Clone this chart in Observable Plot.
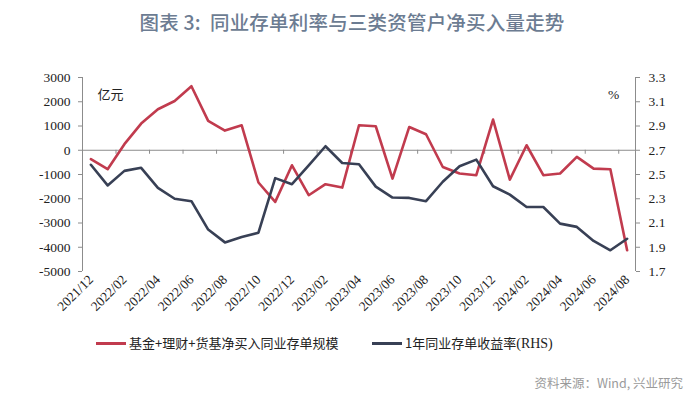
<!DOCTYPE html>
<html><head><meta charset="utf-8">
<script src="https://cdn.jsdelivr.net/npm/d3@7"></script>
<script src="https://cdn.jsdelivr.net/npm/@observablehq/plot@0.6"></script>
<style>
body{margin:0;width:700px;height:404px;position:relative;background:#fff;overflow:hidden;font-family:"Noto Sans CJK SC",sans-serif}
#title{position:absolute;left:0;top:0;width:704px;height:44px;line-height:44px;text-align:center;font-size:19.5px;font-weight:500;color:#6c7c92;letter-spacing:0.2px;white-space:pre}
#chart{position:absolute;left:0;top:45px}
.leg{position:absolute;top:334px;height:18px;line-height:18px;font-size:13px;color:#222;white-space:nowrap}
.sw{display:inline-block;width:30px;height:2.5px;vertical-align:middle;margin-right:3px;position:relative;top:-1px}
#source{position:absolute;right:17px;top:373px;font-size:12.5px;color:#9a9a9a;white-space:nowrap}
</style></head><body>
<div id="title">图表 3:  同业存单利率与三类资管户净买入量走势</div>
<div id="chart"></div>
<div class="leg" style="left:96px"><span class="sw" style="background:#c13b4e"></span>基金+理财+货基净买入同业存单规模</div>
<div class="leg" style="left:372px"><span class="sw" style="background:#384055"></span>1年同业存单收益率<span style="font-family:'Liberation Serif',serif;font-size:14px">(RHS)</span></div>
<div id="source">资料来源：Wind, 兴业研究</div>
<script>
const months = ["2021/12","2022/01","2022/02","2022/03","2022/04","2022/05","2022/06","2022/07","2022/08","2022/09","2022/10","2022/11","2022/12","2023/01","2023/02","2023/03","2023/04","2023/05","2023/06","2023/07","2023/08","2023/09","2023/10","2023/11","2023/12","2024/01","2024/02","2024/03","2024/04","2024/05","2024/06","2024/07","2024/08"];
// 基金+理财+货基净买入同业存单规模（亿元，左轴）
const netBuy = [-370,-780,250,1100,1690,2030,2640,1210,810,1030,-1330,-2130,-620,-1855,-1400,-1540,1030,990,-1170,960,660,-690,-962,-1030,1265,-1210,206,-1030,-960,-275,-756,-785,-4124];
// 1年同业存单收益率（%，右轴）
const rate = [2.58,2.41,2.53,2.555,2.39,2.30,2.28,2.046,1.94,1.985,2.02,2.47,2.42,2.576,2.733,2.595,2.585,2.40,2.31,2.307,2.28,2.44,2.568,2.623,2.403,2.334,2.232,2.232,2.095,2.068,1.952,1.875,1.97];
const leftTicks = [-5000,-4000,-3000,-2000,-1000,0,1000,2000,3000];
const rightTicks = [1.7,1.9,2.1,2.3,2.5,2.7,2.9,3.1,3.3];

const red = "#c13b4e", navy = "#384055", axisColor = "#8c8c8c";
const serif = "'Liberation Serif', 'Times New Roman', serif";
const toLeft = r => (r - 2.7) * 5000;
const idx = d3.range(months.length);
const labelIdx = idx.filter(i => i % 2 === 0);
const tickPos = d3.range(2, months.length, 2).map(k => k - 0.5);

const plot = Plot.plot({
  width: 700, height: 288,
  marginLeft: 82, marginRight: 65, marginTop: 32, marginBottom: 62,
  x: {domain: [-0.5, months.length - 0.5]},
  y: {domain: [-5000, 3000]},
  style: "font-family: 'Liberation Serif', 'Times New Roman', serif; font-size: 13.5px; color: #222; background: transparent; overflow: visible;",
  marks: [
    Plot.ruleY([0], {stroke: axisColor, strokeWidth: 1}),
    Plot.ruleX(tickPos, {x: d => d, y1: 0, y2: 0, insetBottom: -4, stroke: axisColor}),
    Plot.ruleX([-0.5, months.length - 0.5], {x: d => d, y1: -5000, y2: 3000, stroke: axisColor}),
    Plot.axisY({ticks: leftTicks, tickSize: 4, tickPadding: 8, tickFormat: d => String(d), label: null, stroke: axisColor, fill: "#222", fontFamily: serif, fontSize: 13.5}),
    Plot.axisY({anchor: "right", ticks: rightTicks.map(toLeft), tickSize: 4, tickPadding: 9, tickFormat: d => (2.7 + d / 5000).toFixed(1), label: null, stroke: axisColor, fill: "#222", fontFamily: serif, fontSize: 13.5}),
    Plot.axisX({ticks: labelIdx, tickFormat: i => months[i], tickRotate: -45, tickSize: 0, tickPadding: 6, label: null, fill: "#222", fontFamily: serif, fontSize: 13.5}),
    Plot.line(idx, {x: i => i, y: i => netBuy[i], stroke: red, strokeWidth: 2.6}),
    Plot.line(idx, {x: i => i, y: i => toLeft(rate[i]), stroke: navy, strokeWidth: 2.6}),
    Plot.text(["亿元"], {text: d => d, frameAnchor: "top-left", dx: 15, dy: 12, textAnchor: "start", fontFamily: "'Noto Sans CJK SC', sans-serif", fontSize: 13, fill: "#222"}),
    Plot.text(["%"], {text: d => d, frameAnchor: "top-right", dx: -22, dy: 12, textAnchor: "middle", fontFamily: serif, fontSize: 13.5, fill: "#222"})
  ]
});
document.getElementById("chart").appendChild(plot);
</script>
</body></html>
